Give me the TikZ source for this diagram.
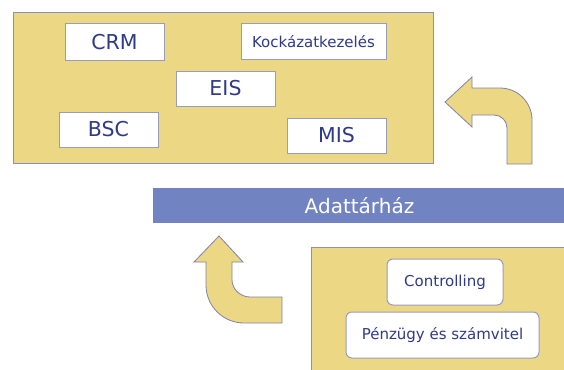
\documentclass[tikz,border=0pt]{standalone}
\usepackage{fontspec}
\setmainfont{DejaVu Sans}
\definecolor{panelfill}{HTML}{EBD784}
\definecolor{panelline}{HTML}{8C90B8}
\definecolor{boxline}{HTML}{9A9CBC}
\definecolor{txtblue}{HTML}{2F3A88}
\definecolor{barblue}{HTML}{7183C1}
\definecolor{arrowline}{HTML}{7F82A8}
\tikzset{
  panel/.style={draw=panelline, fill=panelfill, line width=1pt, inner sep=0pt},
  lbox/.style={draw=boxline, fill=white, line width=1pt, inner sep=0pt, text=txtblue,
    font=\fontsize{20.5}{24}\selectfont},
  sbox/.style={lbox, font=\fontsize{15}{18}\selectfont},
  rbox/.style={sbox, rounded corners=6pt},
  bendarrow/.style={draw=arrowline, fill=panelfill, line width=0.8pt, line join=miter},
}
\begin{document}
\begin{tikzpicture}[x=1pt,y=-1pt]
\useasboundingbox (0,0) rectangle (564,369);
% top panel
\node[panel, minimum width=420pt, minimum height=150pt] (top) at (223,88) {};
\node[lbox, minimum width=99pt, minimum height=36pt] (crm) at (114.5,42) {CRM};
\node[sbox, minimum width=145pt, minimum height=35pt] (kock) at (313.5,41.5) {Kockázatkezelés};
\node[lbox, minimum width=99pt, minimum height=35pt] (eis) at (225.5,88.5) {EIS};
\node[lbox, minimum width=99pt, minimum height=35pt] (bsc) at (108.5,129.5) {BSC};
\node[lbox, minimum width=99pt, minimum height=35pt] (mis) at (336.5,135.5) {MIS};
% bar
\node[fill=barblue, text=white, inner sep=0pt, minimum width=413pt, minimum height=35pt,
  font=\fontsize{20}{24}\selectfont] (adat) at (359.5,205.5) {Adattárház};
% bottom panel
\node[panel, minimum width=256pt, minimum height=124pt] (bot) at (439,309) {};
\node[rbox, minimum width=116pt, minimum height=46pt] (ctrl) at (445,282) {Controlling};
\node[rbox, minimum width=193pt, minimum height=46pt] (penz) at (442.5,335) {Pénzügy és számvitel};
% arrows
\draw[bendarrow] (445,102) -- (472,77) -- (472,88) -- (500,88)
  .. controls (517.7,88) and (532,102.3) .. (532,120) -- (532,164) -- (507,164) -- (507,128)
  .. controls (507,120.8) and (501.2,115) .. (494,115) -- (472,115) -- (472,127) -- cycle;
\draw[bendarrow] (219,236) -- (243,262) -- (232,262) -- (232,280)
  .. controls (232,289.4) and (240.6,297) .. (250,297) -- (282,297) -- (282,323) -- (244,323)
  .. controls (223,323) and (206,306) .. (206,285) -- (206,262) -- (194,262) -- cycle;
\end{tikzpicture}
\end{document}
